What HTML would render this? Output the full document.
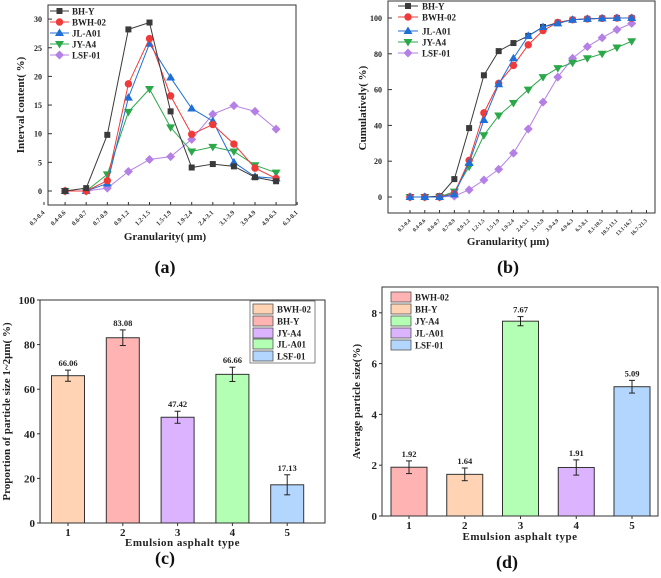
<!DOCTYPE html>
<html><head><meta charset="utf-8">
<style>
html,body{margin:0;padding:0;background:#fff;}
svg{display:block;font-family:"Liberation Serif",serif;font-weight:bold;}
</style></head>
<body>
<svg id="fig" width="661" height="578" viewBox="0 0 661 578" xmlns="http://www.w3.org/2000/svg"></svg>
<script>
// ---------- Data ----------
const seriesNames = ["BH-Y","BWH-02","JL-A01","JY-A4","LSF-01"];
const catsA = ["0.3-0.4","0.4-0.6","0.6-0.7","0.7-0.9","0.9-1.2","1.2-1.5","1.5-1.9","1.9-2.4","2.4-3.1","3.1-3.9","3.9-4.9","4.9-6.3","6.3-8.1"];
const aBHY  = [0,0.5,9.8,28.2,29.4,13.9,4.1,4.7,4.3,2.4,1.7];
const aBWH  = [0,0,1.8,18.7,26.6,16.6,9.9,11.6,8.2,4.0,2.2];
const aJLA  = [0,0,1.3,16.3,25.7,19.8,14.4,12.2,5.0,2.5,2.2];
const aJYA  = [0,0,2.9,13.8,17.8,11.1,6.9,7.7,6.9,4.5,3.2];
const aLSF  = [0,0,0.5,3.4,5.5,6.0,9.0,13.4,14.9,13.9,10.8];
const ticksA = [0,5,10,15,20,25,30];
const catsB = ["0.3-0.4","0.4-0.6","0.6-0.7","0.7-0.9","0.9-1.2","1.2-1.5","1.5-1.9","1.9-2.4","2.4-3.1","3.1-3.9","3.9-4.9","4.9-6.3","6.3-8.1","8.1-10.5","10.5-13.1","13.1-16.7","16.7-21.3"];
const bBHY = [0,0,0.5,10,38.5,68,81.5,86,90,95,97.5,99,99.5,99.8,100,100];
const bBWH = [0,0,0,2,20.5,47,63.5,73.5,85,93,97.5,99,99.5,99.8,100,100];
const bJLA = [0,0,0,1.5,19,43,63,77.5,90,95,97,99,99.5,99.8,100,100];
const bJYA = [0,0,0,3,17,34.5,45.5,52.5,60,67,72,75,77.5,80,83.5,87];
const bLSF = [0,0,0,0.5,4,9.5,15.5,24.5,38,53,67,77.5,84,89,93.5,97];
const ticksB = [0,20,40,60,80,100];
const cNames = ["BWH-02","BH-Y","JY-A4","JL-A01","LSF-01"];
const cValues = [66.06,83.08,47.42,66.66,17.13];
const cErrors = [2.5,3.5,2.7,3.2,4.5];
const ticksC = [0,20,40,60,80,100];
const dNames = ["BWH-02","BH-Y","JY-A4","JL-A01","LSF-01"];
const dValues = [1.92,1.64,7.67,1.91,5.09];
const dErrors = [0.25,0.25,0.18,0.3,0.25];
const ticksD = [0,2,4,6,8];

const svg = document.getElementById('fig');
const NS = "http://www.w3.org/2000/svg";
function mk(tag, attrs, parent, text){
  const e = document.createElementNS(NS, tag);
  for (const k in attrs) e.setAttribute(k, attrs[k]);
  if (text !== undefined) e.textContent = text;
  (parent||svg).appendChild(e);
  return e;
}
const lineColors = {"BH-Y":"#3a3a3a","BWH-02":"#f03a3a","JL-A01":"#1f6fd6","JY-A4":"#2aa84a","LSF-01":"#b580e6"};
const markers = {"BH-Y":"square","BWH-02":"circle","JL-A01":"tri","JY-A4":"dtri","LSF-01":"diamond"};
function marker(type,x,y,c,g){
  let e;
  if(type==="square") e=mk('rect',{x:x-3,y:y-3,width:6,height:6,fill:c},g);
  else if(type==="circle") e=mk('circle',{cx:x,cy:y,r:3.7,fill:c},g);
  else if(type==="tri") e=mk('polygon',{points:`${x},${y-4.5} ${x-4.5},${y+3} ${x+4.5},${y+3}`,fill:c},g);
  else if(type==="dtri") e=mk('polygon',{points:`${x},${y+4.5} ${x-4.5},${y-3} ${x+4.5},${y-3}`,fill:c},g);
  else e=mk('polygon',{points:`${x},${y-4.5} ${x+4.5},${y} ${x},${y+4.5} ${x-4.5},${y}`,fill:c},g);
  
  
}

// ---------- Panel A ----------
(function(){
  const g = mk('g',{});
  
  
  const L=48,R=296,T=5,B=205;
  const y = v => 191 - v*5.73;
  const x = k => 44 + k*21.1;
  mk('rect',{x:L,y:T,width:R-L,height:B-T,fill:'none',stroke:'#333','stroke-width':1},g);
  ticksA.forEach(t=>{
    mk('line',{x1:L,x2:L+4,y1:y(t),y2:y(t),stroke:'#333'},g);
    const e=mk('text',{x:L-6,y:y(t)+3,'font-size':8,'text-anchor':'end',fill:'#222'},g,String(t));
    
  });
  catsA.forEach((c,k)=>{
    mk('line',{x1:x(k),x2:x(k),y1:B,y2:B-3,stroke:'#333'},g);
    const e=mk('text',{transform:`translate(${x(k)+1},${B+8}) rotate(-45)`,'font-size':6.5,'text-anchor':'end',fill:'#333'},g,c);
    
  });
  const sets=[aBHY,aBWH,aJLA,aJYA,aLSF];
  [4,3,2,1,0].forEach(si=>{
    const n=seriesNames[si],c=lineColors[n],d=sets[si];
    const pl=mk('polyline',{points:d.map((v,i)=>`${x(i+1)},${y(v)}`).join(' '),fill:'none',stroke:c,'stroke-width':1},g);
    
    d.forEach((v,i)=>marker(markers[n],x(i+1),y(v),c,g));
  });
  const ly=[11,22,33,44,55];
  seriesNames.forEach((n,i)=>{
    const lg=mk('g',{},g);
    
    
    mk('line',{x1:50,x2:69,y1:ly[i],y2:ly[i],stroke:lineColors[n]},lg);
    marker(markers[n],59.5,ly[i],lineColors[n],lg);
    mk('text',{x:72,y:ly[i]+3.5,'font-size':9,fill:'#222'},lg,n);
  });
  mk('text',{transform:'translate(24,105) rotate(-90)','font-size':11,'text-anchor':'middle',fill:'#222'},g,'Interval content( %)');
  mk('text',{x:165,y:240,'font-size':11,'text-anchor':'middle',fill:'#222'},g,'Granularity( μm)');
  mk('text',{x:165,y:273,'font-size':18,'text-anchor':'middle',fill:'#111'},g,'(a)');
})();

// ---------- Panel B ----------
(function(){
  const g = mk('g',{});
  
  
  const L=388,R=655,T=1,B=213;
  const y = v => 197 - v*1.79;
  const x = k => 410 + k*14.78;
  mk('rect',{x:L,y:T,width:R-L,height:B-T,fill:'none',stroke:'#333','stroke-width':1},g);
  ticksB.forEach(t=>{
    mk('line',{x1:L,x2:L+4,y1:y(t),y2:y(t),stroke:'#333'},g);
    mk('text',{x:L-6,y:y(t)+3,'font-size':8,'text-anchor':'end',fill:'#222'},g,String(t));
  });
  catsB.forEach((c,k)=>{
    mk('line',{x1:x(k),x2:x(k),y1:B,y2:B-3,stroke:'#333'},g);
    mk('text',{transform:`translate(${x(k)+1},${B+8}) rotate(-45)`,'font-size':5.5,'text-anchor':'end',fill:'#333'},g,c);
  });
  const sets=[bBHY,bBWH,bJLA,bJYA,bLSF];
  [4,3,0,1,2].forEach(si=>{
    const n=seriesNames[si],c=lineColors[n],d=sets[si];
    mk('polyline',{points:d.map((v,i)=>`${x(i)},${y(v)}`).join(' '),fill:'none',stroke:c,'stroke-width':1},g);
    d.forEach((v,i)=>marker(markers[n],x(i),y(v),c,g));
  });
  const ly=[6,17,31,42,53];
  seriesNames.forEach((n,i)=>{
    const lg=mk('g',{},g);
    
    
    mk('line',{x1:398,x2:418,y1:ly[i],y2:ly[i],stroke:lineColors[n]},lg);
    marker(markers[n],408,ly[i],lineColors[n],lg);
    mk('text',{x:422,y:ly[i]+3.5,'font-size':9,fill:'#222'},lg,n);
  });
  mk('text',{transform:'translate(366,108) rotate(-90)','font-size':11,'text-anchor':'middle',fill:'#222'},g,'Cumulatively( %)');
  mk('text',{x:508,y:245,'font-size':11,'text-anchor':'middle',fill:'#222'},g,'Granularity( μm)');
  mk('text',{x:508,y:273,'font-size':18,'text-anchor':'middle',fill:'#111'},g,'(b)');
})();

// ---------- Bar panels ----------
const fills = {"BWH-02":"#ffd3b3","BH-Y":"#ffb3b3","JY-A4":"#dcb3ff","JL-A01":"#b3ffb3","LSF-01":"#b3d6ff"};
const fillsD = {"BWH-02":"#ffb3b3","BH-Y":"#ffd3b3","JY-A4":"#b3ffb3","JL-A01":"#dcb3ff","LSF-01":"#b3d6ff"};
function barPanel(o){
  const g = mk('g',{});
  
  
  const y = v => o.B - v*o.scale;
  const x = i => o.x0 + i*o.dx;
  o.values.forEach((v,i)=>{
    const r=mk('rect',{x:x(i)-o.bw/2,y:y(v),width:o.bw,height:o.B-y(v),fill:o.fills[o.names[i]],stroke:'#333','stroke-width':1},g);
    
    
    const e=o.errors[i];
    mk('line',{x1:x(i),x2:x(i),y1:y(v+e),y2:y(v-e),stroke:'#222'},g);
    mk('line',{x1:x(i)-3,x2:x(i)+3,y1:y(v+e),y2:y(v+e),stroke:'#222'},g);
    mk('line',{x1:x(i)-3,x2:x(i)+3,y1:y(v-e),y2:y(v-e),stroke:'#222'},g);
    mk('text',{x:x(i),y:y(v+e)-4,'font-size':8.5,'text-anchor':'middle',fill:'#222'},g,v.toFixed(2));
    mk('line',{x1:x(i),x2:x(i),y1:o.B,y2:o.B+3,stroke:'#333'},g);
    mk('text',{x:x(i),y:o.B+13,'font-size':11,'text-anchor':'middle',fill:'#222'},g,String(i+1));
  });
  mk('rect',{x:o.L,y:o.T,width:o.R-o.L,height:o.B-o.T,fill:'none',stroke:'#333'},g);
  o.ticks.forEach(t=>{
    mk('line',{x1:o.L-3,x2:o.L,y1:y(t),y2:y(t),stroke:'#333'},g);
    mk('text',{x:o.L-5,y:y(t)+4,'font-size':11,'text-anchor':'end',fill:'#222'},g,String(t));
  });
  if(o.legFrame) mk('rect',{x:o.legFrame[0],y:o.legFrame[1],width:o.legFrame[2],height:o.legFrame[3],fill:'#fff',stroke:'#666','stroke-width':0.8},g);
  o.names.forEach((n,i)=>{
    const lg=mk('g',{},g);
    
    
    mk('rect',{x:o.legX,y:o.legY[i]-5,width:20,height:10,fill:o.fills[n],stroke:'#555','stroke-width':0.8},lg);
    mk('text',{x:o.legX+24,y:o.legY[i]+3.5,'font-size':9,fill:'#222'},lg,n);
  });
  mk('text',{transform:`translate(${o.ytx},${(o.T+o.B)/2}) rotate(-90)`,'font-size':11,'text-anchor':'middle',fill:'#222'},g,o.ytitle);
  mk('text',{x:(o.L+o.R)/2,y:o.xty,'font-size':11,'text-anchor':'middle',fill:'#222','letter-spacing':'0.5'},g,'Emulsion asphalt type');
  mk('text',{x:o.lblX,y:o.lblY,'font-size':18,'text-anchor':'middle',fill:'#111'},g,o.label);
}
barPanel({name:'panel-c-proportion',L:40,R:325,T:300,B:523,scale:2.23,x0:68,dx:54.8,bw:33,
  names:cNames,values:cValues,errors:cErrors,ticks:ticksC,fills:fills,
  legX:253,legY:[309,321,333,344,356],legFrame:[250,301,65,62],
  ytx:10,ytitle:'Proportion of particle size 1~2μm( %)',xty:546,lblX:165,lblY:564,label:'(c)'});
barPanel({name:'panel-d-average-size',L:382,R:658,T:287,B:516,scale:25.4,x0:409,dx:55.75,bw:36,
  names:dNames,values:dValues,errors:dErrors,ticks:ticksD,fills:fillsD,
  legX:391,legY:[297,309,321,333,345],legFrame:null,
  ytx:360,ytitle:'Average particle size(%)',xty:540,lblX:507,lblY:568,label:'(d)'});
</script>
</body></html>
